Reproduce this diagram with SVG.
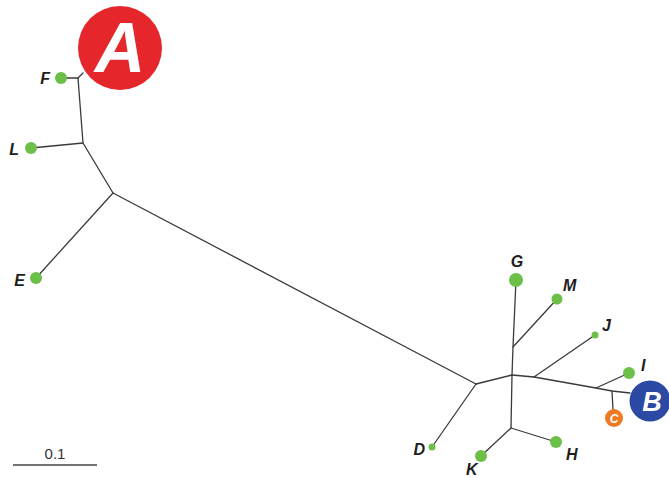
<svg xmlns="http://www.w3.org/2000/svg" width="669" height="478" viewBox="0 0 669 478">
  <style>
    .edge { stroke: #3a3a3a; stroke-width: 1.3; fill: none; stroke-linecap: round; stroke-linejoin: round; }
    .leaf { fill: #6cbf47; }
    .lbl { font-family: "Liberation Sans", Arial, sans-serif; font-weight: bold; font-style: italic; font-size: 16px; fill: #1e1e1e; }
    .badge { font-family: "Liberation Sans", Arial, sans-serif; font-weight: bold; font-style: italic; fill: #ffffff; text-anchor: middle; }
    .scale { font-family: "Liberation Sans", Arial, sans-serif; font-size: 15px; fill: #333333; text-anchor: middle; }
  </style>
  <rect width="669" height="478" fill="#ffffff"/>

  <!-- branches of the unrooted tree -->
  <g id="connectors">
    <path class="edge" d="M61,78 L78,78 L83,73"/>
    <path class="edge" d="M78,78 L83,143 L113,193"/>
    <path class="edge" d="M31,148 L83,143"/>
    <path class="edge" d="M36,278 L113,193"/>
    <path class="edge" d="M113,193 L476,384"/>
    <path class="edge" d="M476,384 L432,447"/>
    <path class="edge" d="M476,384 L512,375"/>
    <path class="edge" d="M516,280 L513,347 L512,375 L511,428"/>
    <path class="edge" d="M513,347 L557,299"/>
    <path class="edge" d="M511,428 L556,442"/>
    <path class="edge" d="M511,428 L481,456"/>
    <path class="edge" d="M512,375 L534,377 L596,388 L612,391 L630,393"/>
    <path class="edge" d="M534,377 L595,335"/>
    <path class="edge" d="M596,388 L629,373"/>
    <path class="edge" d="M612,391 L613,410"/>
  </g>

  <g id="node-A">
    <circle cx="120" cy="48" r="42" fill="#e5262b"/>
    <text class="badge" x="120" y="72" font-size="70">A</text>
  </g>
  <g id="node-F">
    <circle class="leaf" cx="61" cy="78" r="6"/>
    <text class="lbl" x="50" y="84" text-anchor="end">F</text>
  </g>
  <g id="node-L">
    <circle class="leaf" cx="31" cy="148" r="6"/>
    <text class="lbl" x="19" y="155" text-anchor="end">L</text>
  </g>
  <g id="node-E">
    <circle class="leaf" cx="36" cy="278" r="6"/>
    <text class="lbl" x="25" y="286" text-anchor="end">E</text>
  </g>
  <g id="node-D">
    <circle class="leaf" cx="432" cy="447" r="3.5"/>
    <text class="lbl" x="425" y="455" text-anchor="end">D</text>
  </g>
  <g id="node-G">
    <circle class="leaf" cx="516" cy="280" r="7"/>
    <text class="lbl" x="517" y="267" text-anchor="middle">G</text>
  </g>
  <g id="node-M">
    <circle class="leaf" cx="557" cy="299" r="5.5"/>
    <text class="lbl" x="563" y="291">M</text>
  </g>
  <g id="node-J">
    <circle class="leaf" cx="595" cy="335" r="3.5"/>
    <text class="lbl" x="602" y="331">J</text>
  </g>
  <g id="node-I">
    <circle class="leaf" cx="629" cy="373" r="6"/>
    <text class="lbl" x="641" y="371">I</text>
  </g>
  <g id="node-B">
    <circle cx="650" cy="401" r="20.5" fill="#2c4aa3"/>
    <text class="badge" x="652" y="411" font-size="27">B</text>
  </g>
  <g id="node-C">
    <circle cx="614" cy="418" r="9" fill="#ef7a22"/>
    <text class="badge" x="614" y="422.5" font-size="12">C</text>
  </g>
  <g id="node-H">
    <circle class="leaf" cx="556" cy="442" r="6"/>
    <text class="lbl" x="566" y="460">H</text>
  </g>
  <g id="node-K">
    <circle class="leaf" cx="481" cy="456" r="6"/>
    <text class="lbl" x="466" y="475">K</text>
  </g>

  <g id="scale-bar">
    <line x1="13" y1="465" x2="97" y2="465" stroke="#444444" stroke-width="1.5"/>
    <text class="scale" x="55" y="459">0.1</text>
  </g>
</svg>
